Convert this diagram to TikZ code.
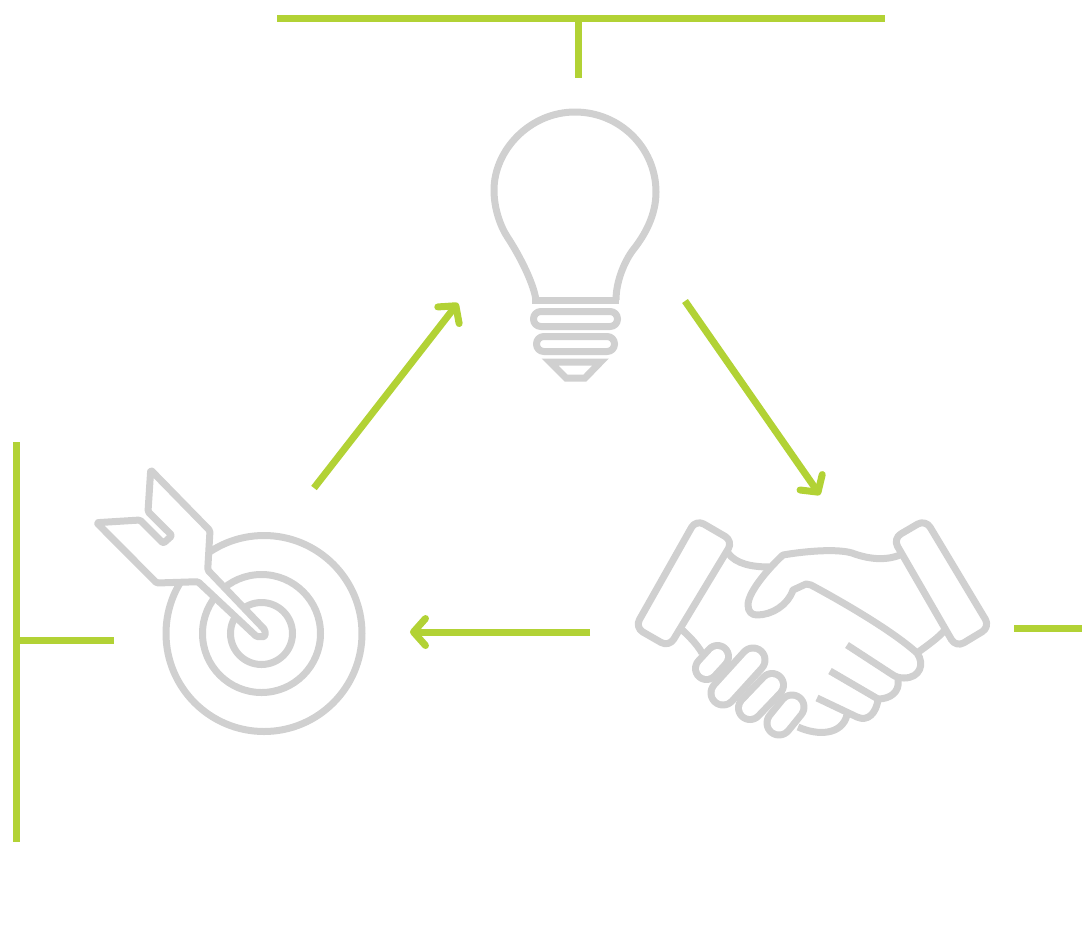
\documentclass[tikz,border=0pt]{standalone}
\usetikzlibrary{arrows.meta}
\definecolor{leaf}{HTML}{B2D235}
\definecolor{icon}{HTML}{D0D0D0}
\begin{document}
\begin{tikzpicture}[
            x=1pt,y=-1pt,
            bar/.style={draw=leaf,line width=7pt},
            arrowline/.style={
              bar,
              arrows={-Straight Barb[round,length=12pt,width=27pt]}
            },
            icn/.style={draw=icon,line width=7pt},
            icnround/.style={icn,line join=round,rounded corners=9pt,fill=white}
        ]
    \useasboundingbox (0,0) rectangle (1082,946);

    % frame bars
    \coordinate (topl) at (277,18);
    \coordinate (topr) at (885,18);
    \coordinate (topm) at (578,18);
    \coordinate (tope) at (578,78);
    \coordinate (leftt) at (16.5,442);
    \coordinate (leftb) at (16.5,842);
    \coordinate (leftm) at (16.5,640);
    \coordinate (lefte) at (114,640);
    \coordinate (rights) at (1014,628);
    \coordinate (righte) at (1082,628);
    \draw[bar] (topl) -- (topr);
    \draw[bar] (topm) -- (tope);
    \draw[bar] (leftt) -- (leftb);
    \draw[bar] (leftm) -- (lefte);
    \draw[bar] (rights) -- (righte);

    % cycle arrows
    \coordinate (goalout) at (314,488);
    \coordinate (bulbin) at (458,303);
    \coordinate (bulbout) at (685,301);
    \coordinate (handin) at (820,495);
    \coordinate (handout) at (590,632);
    \coordinate (goalin) at (410,632);
    \draw[arrowline] (goalout) -- (bulbin);
    \draw[arrowline] (bulbout) -- (handin);
    \draw[arrowline] (handout) -- (goalin);

    % bulb
    \draw[icn] (536,300) .. controls (533,280) and (516,250) .. (508,238)
        .. controls (500,226) and (494,208) .. (494,190)
        .. controls (494,150) and (530,112) .. (575,112)
        .. controls (620,112) and (656,148) .. (656,192)
        .. controls (656,215) and (645,235) .. (633,250)
        .. controls (624,262) and (616,282) .. (616,300);
    \draw[icn] (532,300.5) -- (619,300.5);
    \draw[icn,rounded corners=7.4pt] (533.5,311.5) rectangle (617.5,326.5);
    \draw[icn,rounded corners=7.4pt] (536.5,336.5) rectangle (614.5,351.5);
    \draw[icn] (550,362) -- (600.5,362) -- (585,378) -- (566,378) -- cycle;

    % target
    \foreach \cx/\r in {264/98,261.5/59,261.5/31}
      \draw[icn] (\cx,633.5) circle (\r);
    \draw[icnround,rounded corners=1.5pt] (150.7,470) -- (210,530.7) -- (207.7,570)
        -- (265,630) -- (265,636.7) -- (256.7,636.7) -- (198,581.7) -- (156.7,583)
        -- (96.7,522.7) -- (140,520) -- (163.3,543.3) -- (172,535.5)
        -- (148,511.7) -- cycle;

    % shaking hands
    \draw[icn] (680,628) .. controls (688,635) and (697,644) .. (702,653);
    \draw[icn] (728,553) .. controls (736,564) and (752,567) .. (770,567);
    \draw[icn] (917,653) .. controls (928,645) and (938,638) .. (945,630);
    \draw[icn,line join=round] (900,555) .. controls (885,561) and (868,559) .. (852,553)
        .. controls (835,548) and (800,552) .. (783,555)
        .. controls (775,562) and (748,590) .. (748,605)
        .. controls (748,612) and (752,615) .. (757,615)
        .. controls (772,615) and (788,605) .. (793,590)
        -- (806,584) -- (811,585)
        .. controls (850,606) and (895,633) .. (917,653)
        .. controls (925,664) and (920,678) .. (904,678)
        .. controls (900,678) and (896,677) .. (893,675) -- (847,645);
    \draw[icn,line join=round] (898,680) .. controls (900,692) and (890,699) .. (878,699) -- (830,671);
    \draw[icn,line join=round] (878,700) .. controls (876,713) and (868,722) .. (857,717) -- (817,698);
    \draw[icn] (847,715) .. controls (842,735) and (818,736) .. (798,727);
    \draw[icnround] (696,519.5) -- (733,541) -- (669,647) -- (635,627.5) -- cycle;
    \draw[icnround] (893,538.5) -- (925.5,519.5) -- (990,627) -- (956,647.5) -- cycle;
    \foreach \ax/\ay/\bx/\by/\r in {706.5/668.5/717.5/656.5/11, 779/723/792/707/12, 750/708/772/685/11.5, 723/693/753/660/12}{
      \draw[icon,line cap=round,line width={2*\r+7}] (\ax,\ay) -- (\bx,\by);
      \draw[white,line cap=round,line width={2*\r-7}] (\ax,\ay) -- (\bx,\by);
    }

    \end{tikzpicture}
\end{document}
